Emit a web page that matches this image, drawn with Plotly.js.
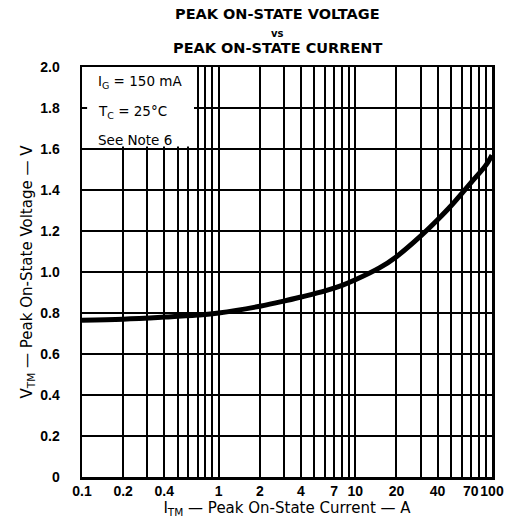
<!DOCTYPE html>
<html>
<head>
<meta charset="utf-8">
<script src="https://cdn.plot.ly/plotly-3.0.1.min.js"></script>
<style>html,body{margin:0;padding:0;background:#fff;}#chart{width:513px;height:527px;}</style>
</head>
<body>
<div id="chart"></div>
<script>
// Curve values
const currentA = [0.1, 0.2, 0.4, 0.7, 1, 2, 3, 4, 6, 8, 10, 15, 20, 30, 40, 50, 70, 90, 100];
const voltageV = [0.765, 0.77, 0.78, 0.79, 0.80, 0.833, 0.858, 0.878, 0.908, 0.935, 0.962, 1.02, 1.075, 1.175, 1.255, 1.322, 1.435, 1.52, 1.57];

// Axis ticks
const xTickVals = [0.1,0.2,0.3,0.4,0.5,0.6,0.7,0.8,0.9,1,2,3,4,5,6,7,8,9,10,20,30,40,50,60,70,80,90,100];
const xTickText = ['0.1','0.2','','0.4','','','','','','1','2','','4','','','7','','','10','20','','40','','','70','','','100'];
const yTickVals = [0,0.2,0.4,0.6,0.8,1.0,1.2,1.4,1.6,1.8,2.0];
const yTickText = ['0','0.2','0.4','0.6','0.8','1.0','1.2','1.4','1.6','1.8','2.0'];

const titleLines = ['PEAK ON-STATE VOLTAGE', 'vs', 'PEAK ON-STATE CURRENT'];
const noteLines = ['I<sub>G</sub> = 150 mA', 'T<sub>C</sub> = 25°C', 'See Note 6'];

const F = 'DejaVu Sans, sans-serif';
const FT = 'Liberation Sans, Arial, sans-serif';

const trace = {
  x: currentA, y: voltageV, type: 'scatter', mode: 'lines',
  line: {color: '#000', width: 5, shape: 'spline', smoothing: 1},
  hoverinfo: 'skip'
};

const plotH = 527 - 67 - 50, plotW = 513 - 82 - 21;
function px2paperX(px){ return (px - 82) / plotW; }
function px2paperY(py){ return (527 - 50 - py) / plotH; }

const layout = {
  width: 513, height: 527,
  margin: {l: 82, r: 21, t: 67, b: 50},
  paper_bgcolor: '#fff', plot_bgcolor: '#fff',
  showlegend: false,
  font: {family: F, color: '#000'},
  xaxis: {
    type: 'log', range: [-1, 2],
    tickvals: xTickVals, ticktext: xTickText, ticks: '', tickangle: 0,
    showgrid: true, gridcolor: '#000', gridwidth: 2,
    showline: true, linecolor: '#000', linewidth: 2.5, mirror: true,
    zeroline: false,
    tickfont: {family: FT, size: 14, color: '#000', weight: 'bold'},
    title: {text: 'I<sub>TM</sub> — Peak On-State Current — A', font: {family: F, size: 15, color: '#000'}, standoff: 2}
  },
  yaxis: {
    range: [0, 2],
    tickvals: yTickVals, ticktext: yTickText, ticks: '',
    ticklabelstandoff: 17,
    showgrid: true, gridcolor: '#000', gridwidth: 2,
    showline: true, linecolor: '#000', linewidth: 2.5, mirror: true,
    zeroline: false,
    tickfont: {family: FT, size: 14, color: '#000', weight: 'bold'},
    title: {text: 'V<sub>TM</sub> — Peak On-State Voltage — V', font: {family: F, size: 15, color: '#000'}, standoff: 4}
  },
  shapes: [
    {type: 'rect', xref: 'x', yref: 'y', x0: 0.1, x1: 0.66, y0: 1.612, y1: 2.0,
     fillcolor: '#fff', line: {width: 0}, layer: 'between'},
    {type: 'line', xref: 'x', yref: 'y', x0: 0.1, x1: 0.109, y0: 1.8, y1: 1.8,
     line: {color: '#000', width: 2}, layer: 'between'}
  ],
  annotations: [
    {text: '<b>' + titleLines[0] + '</b>', x: px2paperX(277), y: px2paperY(14), xref: 'paper', yref: 'paper', showarrow: false, xanchor: 'center', yanchor: 'middle', font: {family: F, size: 14.5, color: '#000'}},
    {text: '<b>' + titleLines[1] + '</b>', x: px2paperX(277), y: px2paperY(34), xref: 'paper', yref: 'paper', showarrow: false, xanchor: 'center', yanchor: 'middle', font: {family: F, size: 10, color: '#000'}},
    {text: '<b>' + titleLines[2] + '</b>', x: px2paperX(277), y: px2paperY(48), xref: 'paper', yref: 'paper', showarrow: false, xanchor: 'center', yanchor: 'middle', font: {family: F, size: 14.5, color: '#000'}},
    {text: noteLines[0], x: px2paperX(96), y: px2paperY(82), xref: 'paper', yref: 'paper', showarrow: false, xanchor: 'left', yanchor: 'middle', font: {family: F, size: 13.5, color: '#000'}},
    {text: noteLines[1], x: px2paperX(96), y: px2paperY(112), xref: 'paper', yref: 'paper', showarrow: false, xanchor: 'left', yanchor: 'middle', font: {family: F, size: 13.5, color: '#000'}},
    {text: noteLines[2], x: px2paperX(96), y: px2paperY(140), xref: 'paper', yref: 'paper', showarrow: false, xanchor: 'left', yanchor: 'middle', font: {family: F, size: 13.5, color: '#000'}}
  ]
};

Plotly.newPlot('chart', [trace], layout, {staticPlot: true, displayModeBar: false});
</script>
</body>
</html>
